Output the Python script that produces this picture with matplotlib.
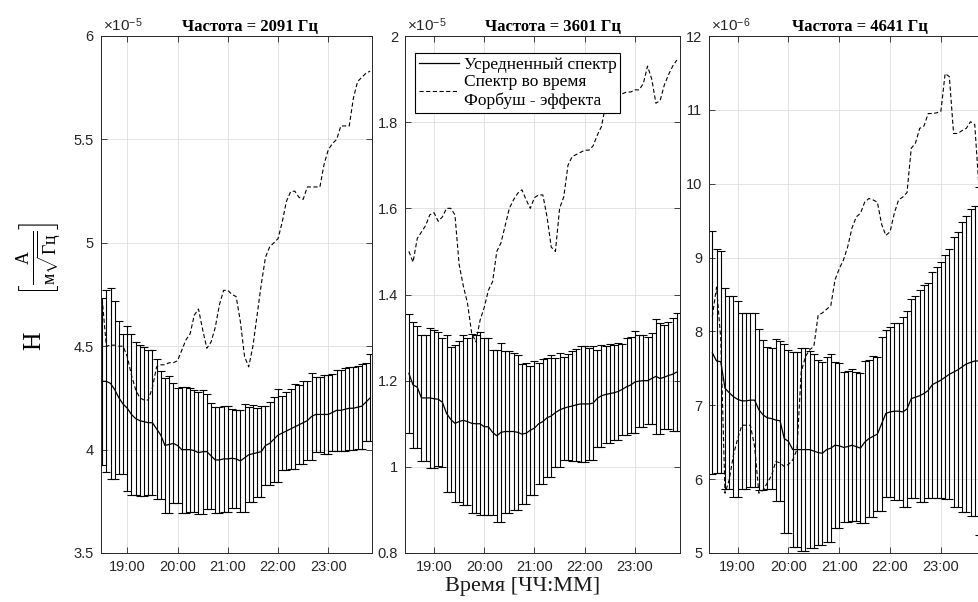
import numpy as np
import matplotlib
matplotlib.use("Agg")
import matplotlib.pyplot as plt
from matplotlib.ticker import FixedLocator, FuncFormatter

plt.rcParams["font.family"] = ["Liberation Sans", "DejaVu Sans"]
plt.rcParams["mathtext.fontset"] = "custom"
plt.rcParams["mathtext.rm"] = "Liberation Serif"
plt.rcParams["mathtext.it"] = "Liberation Serif:italic"
plt.rcParams["mathtext.bf"] = "Liberation Serif:bold"
plt.rcParams["mathtext.sf"] = "Liberation Sans"
plt.rcParams["lines.scale_dashes"] = False

# ---- time axis: 5-minute samples, 18:30 ... 23:50 --------------------------
minutes = np.arange(18 * 60 + 30, 23 * 60 + 51, 5)
hours = minutes / 60.0

# ---- 2091 Hz (values in units of 1e-5) -------------------------------------
mean_2091 = [4.33, 4.33, 4.32, 4.29, 4.25, 4.22, 4.20, 4.17, 4.15, 4.14,
             4.135, 4.13, 4.13, 4.10, 4.07, 4.02, 4.025, 4.03, 4.02, 4.00,
             4.00, 4.00, 3.995, 3.985, 3.99, 3.99, 3.97, 3.95, 3.95, 3.955,
             3.955, 3.958, 3.955, 3.945, 3.96, 3.975, 3.98, 3.985, 3.99, 4.02,
             4.03, 4.05, 4.07, 4.08, 4.09, 4.10, 4.11, 4.12, 4.13, 4.14,
             4.16, 4.17, 4.17, 4.17, 4.17, 4.18, 4.19, 4.19, 4.195, 4.20,
             4.20, 4.205, 4.21, 4.23, 4.25]
std_2091 = [0.405, 0.44, 0.46, 0.43, 0.37, 0.34, 0.40, 0.39, 0.37, 0.365,
            0.36, 0.35, 0.35, 0.34, 0.31, 0.325, 0.33, 0.29, 0.28, 0.305,
            0.305, 0.30, 0.295, 0.295, 0.30, 0.277, 0.257, 0.255, 0.255, 0.255,
            0.255, 0.24, 0.237, 0.245, 0.26, 0.23, 0.235, 0.215, 0.22, 0.19,
            0.20, 0.205, 0.225, 0.18, 0.19, 0.195, 0.205, 0.19, 0.20, 0.19,
            0.21, 0.18, 0.18, 0.19, 0.19, 0.185, 0.195, 0.195, 0.20, 0.20,
            0.20, 0.20, 0.205, 0.19, 0.21]
storm_2091 = [4.73, 4.50, 4.505, 4.505, 4.50, 4.50, 4.45, 4.36, 4.29, 4.25,
              4.24, 4.24, 4.30, 4.40, 4.41, 4.41, 4.42, 4.42, 4.43, 4.48,
              4.53, 4.56, 4.65, 4.68, 4.58, 4.49, 4.52, 4.59, 4.70, 4.77,
              4.77, 4.75, 4.74, 4.62, 4.45, 4.40, 4.50, 4.65, 4.80, 4.93,
              4.98, 5.00, 5.02, 5.10, 5.20, 5.247, 5.25, 5.22, 5.21, 5.27,
              5.27, 5.27, 5.27, 5.38, 5.45, 5.48, 5.50, 5.565, 5.565, 5.565,
              5.70, 5.78, 5.80, 5.82, 5.83]

# ---- 3601 Hz (values in units of 1e-5) -------------------------------------
mean_3601 = [1.217, 1.19, 1.185, 1.16, 1.16, 1.16, 1.158, 1.157, 1.15, 1.124,
             1.11, 1.101, 1.105, 1.108, 1.105, 1.101, 1.10, 1.10, 1.093, 1.093,
             1.08, 1.072, 1.08, 1.082, 1.082, 1.082, 1.08, 1.076, 1.078, 1.085,
             1.09, 1.10, 1.105, 1.114, 1.118, 1.126, 1.132, 1.136, 1.139, 1.141,
             1.144, 1.146, 1.146, 1.146, 1.148, 1.159, 1.165, 1.168, 1.170, 1.172,
             1.175, 1.18, 1.186, 1.19, 1.197, 1.199, 1.20, 1.20, 1.205, 1.21,
             1.205, 1.208, 1.212, 1.215, 1.22]
std_3601 = [0.138, 0.146, 0.141, 0.146, 0.146, 0.162, 0.16, 0.155, 0.15, 0.182,
            0.168, 0.182, 0.186, 0.197, 0.194, 0.207, 0.206, 0.212, 0.205, 0.205,
            0.192, 0.199, 0.207, 0.188, 0.188, 0.182, 0.18, 0.162, 0.164, 0.15,
            0.155, 0.14, 0.145, 0.138, 0.142, 0.127, 0.133, 0.119, 0.122, 0.128,
            0.13, 0.135, 0.135, 0.13, 0.132, 0.112, 0.118, 0.113, 0.115, 0.11,
            0.113, 0.106, 0.112, 0.111, 0.118, 0.106, 0.107, 0.101, 0.106, 0.134,
            0.129, 0.121, 0.125, 0.131, 0.136]
storm_3601 = [1.50, 1.475, 1.53, 1.545, 1.56, 1.585, 1.59, 1.57, 1.58, 1.60,
              1.60, 1.585, 1.47, 1.42, 1.38, 1.31, 1.29, 1.34, 1.37, 1.41,
              1.43, 1.50, 1.52, 1.56, 1.60, 1.62, 1.635, 1.643, 1.62, 1.60,
              1.625, 1.631, 1.631, 1.58, 1.51, 1.50, 1.60, 1.627, 1.70, 1.72,
              1.725, 1.73, 1.735, 1.735, 1.745, 1.77, 1.79, 1.84, 1.85, 1.86,
              1.86, 1.866, 1.87, 1.87, 1.875, 1.875, 1.89, 1.93, 1.90, 1.844,
              1.85, 1.886, 1.91, 1.93, 1.944]

# ---- 4641 Hz (values in units of 1e-6) -------------------------------------
mean_4641 = [7.71, 7.60, 7.59, 7.23, 7.17, 7.116, 7.08, 7.06, 7.06, 7.07,
             7.07, 6.94, 6.87, 6.83, 6.82, 6.80, 6.79, 6.55, 6.51, 6.40,
             6.40, 6.40, 6.40, 6.40, 6.38, 6.36, 6.35, 6.40, 6.42, 6.46,
             6.45, 6.43, 6.44, 6.46, 6.44, 6.42, 6.50, 6.55, 6.58, 6.61,
             6.75, 6.89, 6.91, 6.92, 6.92, 6.91, 6.95, 7.09, 7.11, 7.13,
             7.16, 7.20, 7.28, 7.31, 7.34, 7.38, 7.42, 7.45, 7.48, 7.52,
             7.56, 7.58, 7.60, 7.60, 7.62]
std_4641 = [1.645, 1.513, 1.503, 1.364, 1.304, 1.362, 1.326, 1.194, 1.194, 1.18,
            1.18, 1.087, 1.017, 0.964, 0.954, 1.092, 1.082, 1.284, 1.244, 1.315,
            1.315, 1.37, 1.37, 1.336, 1.316, 1.252, 1.242, 1.255, 1.275, 1.126,
            1.116, 1.014, 1.024, 1.027, 1.007, 1.02, 1.10, 1.06, 1.09, 1.04,
            1.18, 1.13, 1.15, 1.20, 1.20, 1.29, 1.33, 1.35, 1.37, 1.435,
            1.465, 1.45, 1.53, 1.564, 1.594, 1.65, 1.69, 1.83, 1.86, 1.96,
            2.00, 2.08, 2.10, 2.36, 2.38]
storm_4641 = [8.20, 8.60, 7.90, 5.81, 5.99, 6.33, 6.55, 6.73, 6.73, 6.73,
              6.44, 5.81, 5.85, 5.95, 6.05, 6.24, 6.22, 6.17, 6.20, 6.26,
              6.40, 7.45, 7.66, 7.75, 7.80, 8.22, 8.25, 8.30, 8.35, 8.70,
              8.85, 8.97, 9.15, 9.40, 9.55, 9.60, 9.75, 9.80, 9.78, 9.75,
              9.45, 9.30, 9.35, 9.60, 9.78, 9.82, 9.88, 10.48, 10.55, 10.75,
              10.78, 10.95, 10.95, 10.96, 10.98, 11.49, 11.45, 10.68, 10.68, 10.72,
              10.75, 10.84, 10.80, 9.95, 9.90]

frequencies = [2091, 3601, 4641]
exponents = [-5, -5, -6]
y_limits = [(3.5, 6.0), (0.8, 2.0), (5.0, 12.0)]
y_ticks = [[3.5, 4, 4.5, 5, 5.5, 6],
           [0.8, 1.0, 1.2, 1.4, 1.6, 1.8, 2.0],
           [5, 6, 7, 8, 9, 10, 11, 12]]
hour_ticks = [19, 20, 21, 22, 23]
means = [mean_2091, mean_3601, mean_4641]
stds = [std_2091, std_3601, std_4641]
storms = [storm_2091, storm_3601, storm_4641]

legend_labels = ["Усредненный спектр", "Спектр во время\nФорбуш - эффекта"]

# ---- layout (pixel boxes of the three panels, title centres) ---------------
W, H = 979, 602
boxes = [(100.7, 36, 372.3, 553), (405, 36, 680, 553), (709.3, 36, 986.3, 553)]
title_centres = [249.7, 553.3, 860.0]
x_limits = [(18.471, 23.876), (18.423, 23.896), (18.441, 23.894)]

ink = "#262626"
serif = ["Liberation Serif", "DejaVu Serif"]

fig = plt.figure(figsize=(W / 100, H / 100), dpi=100)

for k in range(3):
    l, t, r, b = boxes[k]
    ax = fig.add_axes([l / W, 1 - b / H, (r - l) / W, (b - t) / H])
    m = np.asarray(means[k])
    s = np.asarray(stds[k])
    ax.errorbar(hours, m, yerr=s, fmt="none", ecolor="black",
                elinewidth=0.8, capsize=2.6, capthick=0.8, zorder=2)
    mean_line, = ax.plot(hours, m, color="black", lw=0.9, zorder=3)
    storm_line, = ax.plot(hours, storms[k], color="black", lw=0.8,
                          linestyle=(0, (3.0, 1.8)), zorder=4)

    ax.set_xlim(*x_limits[k])
    ax.set_ylim(*y_limits[k])
    ax.xaxis.set_major_locator(FixedLocator(hour_ticks))
    ax.xaxis.set_major_formatter(FuncFormatter(lambda v, _: f"{int(round(v))}:00"))
    ax.yaxis.set_major_locator(FixedLocator(y_ticks[k]))
    ax.yaxis.set_major_formatter(FuncFormatter(lambda v, _: f"{v:g}"))

    ax.set_axisbelow(True)
    ax.grid(True, color="#dedede", lw=0.6)
    ax.tick_params(direction="in", top=True, right=True, length=4, width=0.6,
                   colors=ink, labelsize=10.5, pad=5)
    for sp in ax.spines.values():
        sp.set_color(ink)
        sp.set_linewidth(0.7)

    ax.set_title(f"Частота = {frequencies[k]} Гц", family=serif,
                 fontweight="bold", fontsize=12, pad=3.5,
                 x=(title_centres[k] - l) / (r - l))
    ax.text(0.007, 1.004, "×10$^{\\mathsf{%d}}$" % exponents[k],
            transform=ax.transAxes, ha="left", va="bottom",
            fontsize=11, color=ink)

    if k == 1:
        leg = ax.legend([mean_line, storm_line], legend_labels,
                        loc="upper left", bbox_to_anchor=(0.036, 0.967),
                        borderaxespad=0, prop={"family": serif, "size": 12.5},
                        frameon=True, fancybox=False, framealpha=1,
                        edgecolor="black", handlelength=2.3,
                        handletextpad=0.3, borderpad=0.22, labelspacing=0.05)
        leg.get_frame().set_linewidth(0.8)

fig.text(40 / W, 1 - 286 / H,
         r"$\mathrm{H}\quad\quad\left[\frac{\mathrm{А}}{\mathrm{м}\sqrt{\mathrm{Гц}}}\right]$",
         rotation=90, ha="center", va="center", fontsize=18.5)
fig.text(522.5 / W, 1 - 587 / H, "Время [ЧЧ:ММ]", family=serif,
         ha="center", va="center", fontsize=16, color="#1a1a1a")

fig.savefig("out.png", dpi=100, facecolor="white")
